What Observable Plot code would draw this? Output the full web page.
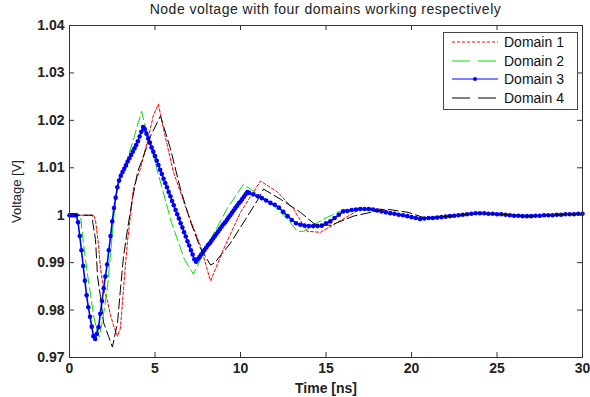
<!DOCTYPE html>
<html><head><meta charset="utf-8">
<script src="https://cdn.jsdelivr.net/npm/d3@7"></script>
<script src="https://cdn.jsdelivr.net/npm/@observablehq/plot@0.6"></script>
<style>
body{margin:0;background:#fff;font-family:"Liberation Sans",Arial,sans-serif;}
#wrap{position:relative;width:590px;height:397px;overflow:hidden;}
#title{position:absolute;left:69px;width:513px;top:1px;text-align:center;font-size:14px;letter-spacing:0.5px;color:#222;z-index:2;}
#chart{position:absolute;left:0;top:12px;z-index:1;}
#legend{position:absolute;left:443px;top:32px;width:135px;height:78px;border:1px solid #444;background:#fff;box-sizing:border-box;z-index:3;}
.lrow{position:absolute;left:0;height:16px;display:flex;align-items:center;font-size:14px;color:#111;}
.lrow svg{margin-left:8px;margin-right:6px;}
</style></head><body>
<div id="wrap"><div id="chart"></div><div id="title">Node voltage with four domains working respectively</div><div id="legend"></div></div>
<script>
const seriesNames = ["Domain 1", "Domain 2", "Domain 3", "Domain 4"];
const xTicks = [0, 5, 10, 15, 20, 25, 30];
const yTicks = [0.97, 0.98, 0.99, 1.00, 1.01, 1.02, 1.03, 1.04];
const yTickLabels = ["0.97", "0.98", "0.99", "1", "1.01", "1.02", "1.03", "1.04"];

// Domain 1 (red dotted)
const d1Time = [0,1.42,1.52,1.70,1.81,1.99,2.22,2.40,2.57,2.81,2.98,3.16,3.39,3.57,3.74,4.15,4.56,4.91,5.20,5.50,6.08,6.90,7.66,8.25,9.0,10.0,10.6,11.17,12.16,13.1,13.9,14.68,15.67,17.0,18.2,19.5,20.5,22.3,23.9,25.2,26.8,28.1,30];
const d1Volt = [1,1,0.9989,0.9937,0.9888,0.9846,0.9819,0.9789,0.9768,0.9745,0.9762,0.9846,0.9945,1.0,1.0057,1.0099,1.0156,1.0211,1.0234,1.0181,1.0091,1.0006,0.9935,0.9861,0.9928,1.0006,1.0040,1.0072,1.0049,1.0013,0.9966,0.9964,0.9985,1.0013,1.0013,1.0,0.9992,0.9998,1.0004,1.0002,0.9998,1.0,1.0003];

// Domain 2 (green dashed)
const d2Time = [0,0.64,0.82,1.05,1.23,1.40,1.64,1.75,1.99,2.22,2.40,2.57,2.69,2.87,3.39,3.74,4.03,4.21,4.80,5.96,6.72,7.25,8.07,9.24,10.17,11.75,12.75,13.33,13.68,14.86,16.0,17.0,18.6,20.5,22.3,23.9,25.2,26.8,28.1,30];
const d2Volt = [1,1,0.9939,0.9876,0.9833,0.9791,0.9749,0.9743,0.9791,0.9848,0.9918,0.9989,1.0027,1.0076,1.0118,1.0160,1.0196,1.0219,1.0139,0.9985,0.9907,0.9876,0.9937,1.0015,1.0065,1.0027,0.9992,0.9966,0.9966,0.9992,1.0011,1.0013,1.0006,0.9992,0.9998,1.0004,1.0002,0.9998,1.0,1.0003];

// Domain 3 (blue, markers)
const d3Time = [
  0,0.1,0.2,0.3,0.4,0.5,0.6,0.7,0.8,0.9,
  1.0,1.1,1.2,1.3,1.4,1.5,1.6,1.7,1.8,1.9,
  2.0,2.1,2.2,2.3,2.4,2.5,2.6,2.7,2.8,2.9,
  3.0,3.1,3.2,3.3,3.4,3.5,3.6,3.7,3.8,3.9,
  4.0,4.1,4.2,4.3,4.4,4.5,4.6,4.7,4.8,4.9,
  5.0,5.1,5.2,5.3,5.4,5.5,5.6,5.7,5.8,5.9,
  6.0,6.1,6.2,6.3,6.4,6.5,6.6,6.7,6.8,6.9,
  7.0,7.1,7.2,7.3,7.4,7.5,7.6,7.7,7.8,7.9,
  8.0,8.1,8.2,8.3,8.4,8.5,8.6,8.7,8.8,8.9,
  9.0,9.1,9.2,9.3,9.4,9.5,9.6,9.7,9.8,9.9,
  10.0,10.1,10.2,10.3,10.4,10.5,
  10.75,11,11.25,11.5,
  11.75,12,12.25,12.5,12.75,13,13.25,13.5,
  13.75,14,14.25,14.5,14.75,15,15.25,15.5,
  15.75,16,16.25,16.5,16.75,17,17.25,17.5,
  17.75,18,18.25,18.5,18.75,19,19.25,19.5,
  19.75,20,20.25,20.5,20.75,21,21.25,21.5,
  21.75,22,22.25,22.5,22.75,23,23.25,23.5,
  23.75,24,24.25,24.5,24.75,25,25.25,25.5,
  25.75,26,26.25,26.5,26.75,27,27.25,27.5,
  27.75,28,28.25,28.5,28.75,29,29.25,29.5,
  29.75,30];
const d3Volt = [
  1.0000,1.0000,1.0000,1.0000,1.0000,0.9985,0.9956,0.9926,0.9893,0.9862,
  0.9831,0.9806,0.9786,0.9765,0.9745,0.9739,0.9750,0.9764,0.9792,0.9819,
  0.9846,0.9871,0.9896,0.9926,0.9956,0.9987,1.0015,1.0037,1.0059,1.0073,
  1.0083,1.0091,1.0098,1.0105,1.0113,1.0120,1.0127,1.0134,1.0141,1.0148,
  1.0156,1.0166,1.0176,1.0186,1.0181,1.0172,1.0162,1.0153,1.0143,1.0134,
  1.0125,1.0115,1.0106,1.0096,1.0087,1.0077,1.0068,1.0059,1.0049,1.0040,
  1.0030,1.0021,1.0011,1.0002,0.9993,0.9983,0.9974,0.9964,0.9955,0.9945,
  0.9936,0.9926,0.9917,0.9907,0.9902,0.9907,0.9912,0.9917,0.9922,0.9927,
  0.9932,0.9937,0.9941,0.9946,0.9951,0.9956,0.9961,0.9966,0.9971,0.9976,
  0.9981,0.9985,0.9990,0.9995,1.0000,1.0005,1.0010,1.0015,1.0020,1.0025,
  1.0029,1.0034,1.0039,1.0044,1.0049,1.0047,
  1.0044,1.0040,1.0036,1.0031,
  1.0026,1.0022,1.0016,1.0007,0.9998,0.9990,0.9983,0.9980,
  0.9978,0.9977,0.9977,0.9977,0.9978,0.9983,0.9987,0.9994,
  1.0001,1.0008,1.0009,1.0011,1.0012,1.0013,1.0013,1.0013,
  1.0012,1.0010,1.0008,1.0006,1.0004,1.0003,1.0001,1.0000,
  0.9998,0.9996,0.9994,0.9992,0.9993,0.9994,0.9994,0.9995,
  0.9996,0.9997,0.9998,0.9999,1.0000,1.0001,1.0002,1.0003,
  1.0004,1.0004,1.0004,1.0003,1.0003,1.0002,1.0002,1.0001,
  1.0000,0.9999,0.9999,0.9998,0.9998,0.9998,0.9999,0.9999,
  1.0000,1.0000,1.0000,1.0001,1.0001,1.0002,1.0002,1.0002,
  1.0003,1.0003];

// Domain 4 (black dashed)
const d4Time = [0,1.35,1.36,1.52,1.64,1.81,1.99,2.28,2.51,2.81,2.98,3.16,3.39,3.68,3.98,4.33,4.74,5.14,5.32,5.90,6.49,7.08,7.66,8.25,8.50,9.41,10.41,11.0,11.35,12.33,13.51,14.27,14.5,15.3,16.6,18.5,19.8,20.8,22.3,23.9,25.2,26.8,28.1,30];
const d4Volt = [1,1,0.9985,0.9949,0.9871,0.9829,0.9774,0.9745,0.9722,0.9774,0.9844,0.9913,0.9970,1.0034,1.0091,1.0125,1.0167,1.0196,1.0209,1.0141,1.0055,0.9986,0.9930,0.9895,0.9900,0.9941,0.9998,1.0032,1.0055,1.0034,1.0006,0.9983,0.9979,0.9979,0.9998,1.0013,1.0006,0.9994,0.9998,1.0004,1.0002,0.9998,1.0,1.0003];

const colors = ["#ff0000", "#00e000", "#0000ff", "#000000"];
const dashes = ["3,2", "10,4", null, "10,4"];

const rows = (T, V) => T.map((t, i) => ({t, v: V[i]}));
const r1 = rows(d1Time, d1Volt), r2 = rows(d2Time, d2Volt), r3 = rows(d3Time, d3Volt), r4 = rows(d4Time, d4Volt);

const W = 590, H = 385, mL = 69, mR = 8, mT = 13, mB = 40;
const fW = W - mL - mR, fH = H - mT - mB;

const chart = Plot.plot({
  width: W, height: H,
  marginLeft: mL, marginRight: mR, marginTop: mT, marginBottom: mB,
  x: {domain: [0, 30]},
  y: {domain: [0.97, 1.04]},
  style: {fontFamily: "'Liberation Sans', Arial, sans-serif", fontSize: "14px", color: "#222", background: "#fff"},
  marks: [
    Plot.line(r1, {x: "t", y: "v", stroke: colors[0], strokeWidth: 1, strokeDasharray: dashes[0]}),
    Plot.line(r2, {x: "t", y: "v", stroke: colors[1], strokeWidth: 1, strokeDasharray: dashes[1]}),
    Plot.line(r3, {x: "t", y: "v", stroke: colors[2], strokeWidth: 1.6}),
    Plot.dot(r3, {x: "t", y: "v", r: 2.3, fill: colors[2], stroke: "none"}),
    Plot.line(r4, {x: "t", y: "v", stroke: colors[3], strokeWidth: 1, strokeDasharray: dashes[3]}),
    Plot.frame({stroke: "#333"}),
    Plot.tickX(xTicks, {x: d => d, insetTop: fH - 5, stroke: "#333"}),
    Plot.tickX(xTicks, {x: d => d, insetBottom: fH - 5, stroke: "#333"}),
    Plot.tickY(yTicks, {y: d => d, insetRight: fW - 5, stroke: "#333"}),
    Plot.tickY(yTicks, {y: d => d, insetLeft: fW - 5, stroke: "#333"}),
    Plot.axisX({ticks: xTicks, tickSize: 0, tickPadding: 6, fontWeight: "bold", fontSize: 14, label: "Time [ns]", labelAnchor: "center", labelArrow: "none", labelOffset: 35}),
    Plot.axisY({ticks: yTicks, tickSize: 0, tickPadding: 5, fontWeight: "bold", fontSize: 14, tickFormat: d => yTickLabels[yTicks.findIndex(y => Math.abs(y - d) < 1e-9)], label: null}),
    Plot.axisY({ticks: [], tickSize: 0, fontSize: 13, label: "Voltage [V]", labelAnchor: "center", labelArrow: "none", labelOffset: 58})
  ]
});
document.getElementById("chart").appendChild(chart);

// Legend
const leg = d3.select("#legend");
seriesNames.forEach((name, i) => {
  const row = leg.append("div").attr("class", "lrow").style("top", (1 + i * 18.5) + "px");
  const s = row.append("svg").attr("width", 46).attr("height", 12);
  s.append("line").attr("x1", 0).attr("x2", 46).attr("y1", 6).attr("y2", 6)
    .attr("stroke", colors[i]).attr("stroke-width", 1)
    .attr("stroke-dasharray", i === 1 || i === 3 ? "18,8" : dashes[i]);
  if (i === 2) s.append("circle").attr("cx", 23).attr("cy", 6).attr("r", 2).attr("fill", colors[i]);
  row.append("span").text(name);
});
</script>
</body></html>
